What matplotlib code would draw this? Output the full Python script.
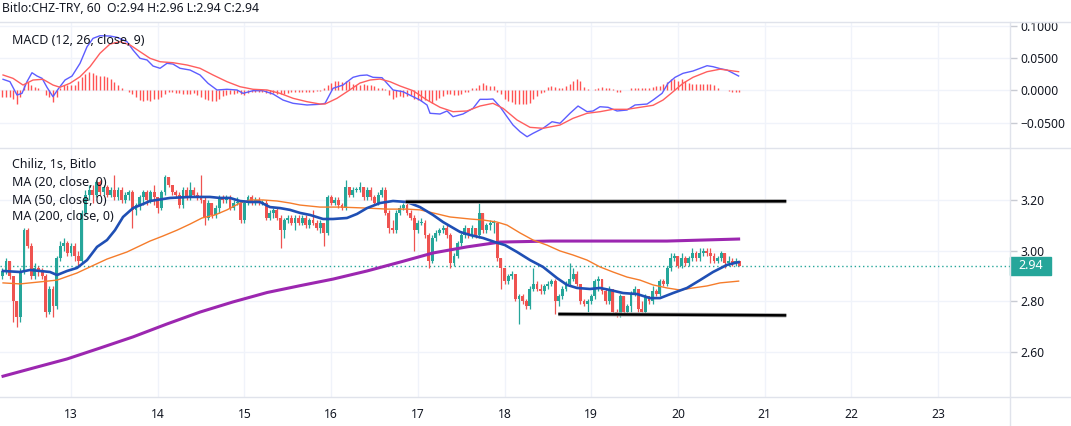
import numpy as np
import matplotlib
matplotlib.use("Agg")
import matplotlib.pyplot as plt
from matplotlib.patches import Rectangle
from matplotlib.lines import Line2D
from matplotlib import transforms

plt.rcParams['font.family'] = ['Noto Sans', 'DejaVu Sans']

# ---- data: Bitlo CHZ/TRY, 1h candles ----
first_candle_day = 12 + 5 / 24   # 12 Dec, 05:00
first_open = 2.90

closes = [
    2.92, 2.96, 2.90, 2.80, 2.74, 2.92, 3.08, 3.02, 2.90, 2.93,
    2.92, 2.90, 2.76, 2.85, 2.78, 2.97, 3.02, 3.03, 2.99, 3.02,
    2.98, 2.96, 3.15, 3.22, 3.24, 3.22, 3.27, 3.23, 3.25, 3.22,
    3.24, 3.21, 3.24, 3.20, 3.22, 3.23, 3.16, 3.18, 3.21, 3.23,
    3.20, 3.23, 3.21, 3.17, 3.23, 3.29, 3.26, 3.23, 3.22, 3.18,
    3.24, 3.21, 3.24, 3.22, 3.21, 3.20, 3.13, 3.19, 3.14, 3.17,
    3.21, 3.20, 3.21, 3.17, 3.19, 3.19, 3.12, 3.19, 3.21, 3.19,
    3.20, 3.19, 3.19, 3.13, 3.15, 3.16, 3.13, 3.08, 3.12, 3.13,
    3.11, 3.13, 3.11, 3.13, 3.10, 3.12, 3.11, 3.09, 3.11, 3.07,
    3.21, 3.19, 3.20, 3.18, 3.17, 3.25, 3.22, 3.24, 3.24, 3.25,
    3.21, 3.24, 3.21, 3.19, 3.22, 3.24, 3.15, 3.09, 3.08, 3.15,
    3.17, 3.18, 3.15, 3.13, 3.08, 3.11, 3.11, 3.06, 2.96, 3.05,
    3.07, 3.08, 3.09, 3.06, 2.95, 2.98, 3.03, 3.06, 3.09, 3.06,
    3.09, 3.06, 3.15, 3.08, 3.10, 3.11, 3.11, 2.97, 2.93, 2.88,
    2.90, 2.91, 2.81, 2.82, 2.80, 2.78, 2.85, 2.87, 2.85, 2.84,
    2.86, 2.87, 2.88, 2.80, 2.82, 2.85, 2.87, 2.89, 2.91, 2.87,
    2.80, 2.79, 2.80, 2.82, 2.88, 2.89, 2.84, 2.80, 2.85, 2.76,
    2.75, 2.82, 2.76, 2.78, 2.83, 2.85, 2.77, 2.76, 2.82, 2.80,
    2.84, 2.83, 2.88, 2.87, 2.93, 2.97, 2.98, 2.94, 2.97, 2.95,
    2.97, 2.99, 2.97, 2.99, 3.00, 2.99, 2.98, 2.96, 2.97, 2.99,
    2.95, 2.96, 2.95, 2.96, 2.94,
]
highs = [
    2.93, 2.97, 2.96, 2.90, 2.80, 2.93, 3.09, 3.09, 3.03, 2.95,
    2.94, 2.93, 2.91, 2.86, 2.86, 2.98, 3.04, 3.05, 3.04, 3.03,
    3.03, 3.00, 3.16, 3.24, 3.26, 3.26, 3.28, 3.28, 3.26, 3.26,
    3.25, 3.30, 3.25, 3.25, 3.23, 3.24, 3.24, 3.19, 3.22, 3.24,
    3.24, 3.24, 3.26, 3.21, 3.24, 3.30, 3.29, 3.26, 3.24, 3.23,
    3.25, 3.25, 3.27, 3.25, 3.23, 3.30, 3.21, 3.20, 3.19, 3.18,
    3.22, 3.22, 3.22, 3.22, 3.20, 3.21, 3.20, 3.20, 3.22, 3.22,
    3.21, 3.21, 3.20, 3.20, 3.16, 3.17, 3.17, 3.14, 3.13, 3.14,
    3.14, 3.14, 3.14, 3.14, 3.14, 3.13, 3.16, 3.12, 3.12, 3.11,
    3.22, 3.22, 3.21, 3.21, 3.19, 3.28, 3.25, 3.25, 3.25, 3.27,
    3.25, 3.25, 3.25, 3.22, 3.23, 3.25, 3.25, 3.16, 3.12, 3.16,
    3.18, 3.19, 3.19, 3.16, 3.14, 3.12, 3.13, 3.12, 3.07, 3.06,
    3.08, 3.09, 3.10, 3.10, 3.07, 2.99, 3.04, 3.07, 3.10, 3.09,
    3.10, 3.09, 3.19, 3.15, 3.11, 3.12, 3.12, 3.11, 2.97, 2.93,
    2.91, 2.92, 2.91, 2.83, 2.83, 2.81, 2.86, 2.93, 2.88, 2.87,
    2.87, 2.88, 2.89, 2.89, 2.83, 2.86, 2.88, 2.95, 2.93, 2.92,
    2.87, 2.81, 2.81, 2.83, 2.89, 2.90, 2.89, 2.85, 2.86, 2.85,
    2.77, 2.83, 2.82, 2.79, 2.84, 2.86, 2.85, 2.80, 2.83, 2.82,
    2.86, 2.85, 2.89, 2.89, 2.94, 2.99, 2.99, 2.98, 2.99, 2.98,
    2.98, 3.01, 3.00, 3.01, 3.01, 3.01, 3.01, 2.99, 2.98, 3.00,
    2.99, 2.98, 2.97, 2.97, 2.96,
]
lows = [
    2.89, 2.91, 2.89, 2.72, 2.70, 2.72, 2.91, 3.01, 2.89, 2.89,
    2.90, 2.89, 2.74, 2.75, 2.74, 2.77, 2.96, 3.00, 2.98, 2.98,
    2.96, 2.94, 2.95, 3.14, 3.20, 3.19, 3.21, 3.22, 3.22, 3.21,
    3.21, 3.20, 3.20, 3.19, 3.19, 3.20, 3.09, 3.14, 3.16, 3.18,
    3.18, 3.19, 3.18, 3.15, 3.16, 3.22, 3.25, 3.22, 3.21, 3.17,
    3.17, 3.20, 3.20, 3.21, 3.20, 3.19, 3.10, 3.12, 3.13, 3.13,
    3.15, 3.19, 3.19, 3.16, 3.16, 3.18, 3.11, 3.11, 3.18, 3.18,
    3.18, 3.18, 3.18, 3.12, 3.12, 3.13, 3.12, 3.01, 3.05, 3.11,
    3.10, 3.08, 3.10, 3.10, 3.09, 3.09, 3.10, 3.08, 3.07, 3.02,
    3.06, 3.18, 3.18, 3.17, 3.16, 3.16, 3.21, 3.21, 3.23, 3.23,
    3.20, 3.20, 3.20, 3.18, 3.18, 3.21, 3.14, 3.07, 3.07, 3.07,
    3.14, 3.16, 3.14, 3.12, 3.00, 3.07, 3.10, 3.05, 2.93, 2.95,
    3.04, 3.06, 3.07, 3.05, 2.93, 2.94, 2.97, 3.02, 3.05, 3.05,
    3.05, 3.05, 3.05, 3.07, 3.07, 3.08, 3.07, 2.96, 2.85, 2.87,
    2.87, 2.89, 2.80, 2.71, 2.79, 2.77, 2.77, 2.84, 2.84, 2.83,
    2.83, 2.85, 2.86, 2.75, 2.78, 2.81, 2.84, 2.86, 2.88, 2.86,
    2.79, 2.78, 2.76, 2.79, 2.81, 2.84, 2.83, 2.79, 2.79, 2.75,
    2.74, 2.74, 2.75, 2.75, 2.76, 2.82, 2.76, 2.76, 2.75, 2.79,
    2.79, 2.82, 2.82, 2.86, 2.86, 2.92, 2.96, 2.93, 2.93, 2.94,
    2.94, 2.96, 2.96, 2.96, 2.98, 2.98, 2.95, 2.95, 2.95, 2.96,
    2.93, 2.94, 2.94, 2.94, 2.94,
]
# MACD histogram, one bar per candle, in thousandths
macd_hist_milli = [
    -10, -10, -10, -13, -22, -10, 8, 13, 9, 5,
    3, 1, -8, -11, -18, -10, 3, 8, 9, 9,
    8, 15, 21, 26, 28, 27, 24, 23, 22, 21,
    17, 13, 8, 4, 1, -3, -5, -10, -15, -16,
    -15, -16, -14, -13, -11, -6, -3, -3, -4, -4,
    -5, -6, -5, -4, -8, -10, -13, -15, -16, -17,
    -13, -9, -8, -6, -5, -4, -6, -7, -4, -3,
    -2, -2, -3, -4, -5, -4, -5, -6, -5, -4,
    -3, -3, -3, -3, -2, -2, -2, -1, -1, 3,
    8, 11, 14, 14, 13, 14, 14, 10, 8, 9,
    10, 9, 9, 6, 3, 3, 2, -8, -13, -11,
    -9, -10, -9, -8, -13, -15, -16, -15, -17, -19,
    -15, -12, -9, -6, -6, -7, -7, -5, -3, -2,
    3, 4, 8, 11, 9, 7, 7, -2, -5, -13,
    -17, -18, -21, -22, -21, -21, -20, -14, -9, -4,
    -2, 5, 7, 5, 4, 4, 6, 10, 15, 17,
    15, 5, 2, 1, 2, 4, 5, 4, 4, 2,
    -3, -3, 1, 1, 3, 4, 4, 4, 4, 4,
    5, 6, 7, 10, 13, 17, 18, 15, 17, 15,
    11, 10, 10, 10, 10, 10, 10, 8, 4, 1,
    1, -1, -2, -3, -3,
]

ma20_days = [12.216, 12.412, 12.527, 12.642, 12.758, 12.839, 12.954, 13.069, 13.185, 13.300,
             13.415, 13.507, 13.600, 13.715, 13.830, 13.911, 14.142, 14.373, 14.603, 14.719,
             14.834, 14.949, 15.065, 15.180, 15.295, 15.411, 15.526, 15.641, 15.757, 15.907,
             16.022, 16.183, 16.299, 16.414, 16.564, 16.714, 16.875, 17.025, 17.175, 17.291,
             17.371, 17.487, 17.602, 17.752, 17.890, 18.006, 18.144, 18.294, 18.444, 18.606,
             18.721, 18.836, 18.986, 19.101, 19.217, 19.367, 19.528, 19.678, 19.794, 19.944,
             20.105, 20.255, 20.405, 20.566, 20.700]
ma20 = [2.920, 2.916, 2.924, 2.920, 2.916, 2.904, 2.920, 2.932, 2.963, 3.015,
        3.042, 3.081, 3.133, 3.168, 3.184, 3.196, 3.208, 3.212, 3.212, 3.208,
        3.208, 3.196, 3.192, 3.192, 3.172, 3.168, 3.161, 3.149, 3.141, 3.125,
        3.125, 3.129, 3.145, 3.168, 3.188, 3.196, 3.192, 3.172, 3.141, 3.113,
        3.097, 3.074, 3.062, 3.050, 3.034, 3.022, 2.995, 2.963, 2.936, 2.892,
        2.865, 2.853, 2.849, 2.853, 2.845, 2.833, 2.829, 2.813, 2.813, 2.833,
        2.853, 2.884, 2.916, 2.944, 2.955]

ma50_days = [12.216, 12.412, 12.642, 12.839, 13.069, 13.219, 13.415, 13.646, 13.911, 14.061,
             14.223, 14.373, 14.511, 14.661, 14.799, 14.949, 15.065, 15.215, 15.376, 15.526,
             15.641, 15.872, 16.103, 16.414, 16.645, 16.875, 17.025, 17.175, 17.371, 17.602,
             17.752, 17.913, 18.029, 18.179, 18.329, 18.490, 18.640, 18.790, 18.952, 19.101,
             19.251, 19.413, 19.563, 19.713, 19.874, 20.024, 20.174, 20.336, 20.486, 20.700]
ma50 = [2.873, 2.869, 2.877, 2.884, 2.912, 2.936, 2.967, 2.995, 3.038, 3.058,
        3.081, 3.105, 3.129, 3.141, 3.161, 3.188, 3.200, 3.200, 3.196, 3.188,
        3.180, 3.172, 3.172, 3.168, 3.164, 3.164, 3.161, 3.149, 3.133, 3.125,
        3.121, 3.113, 3.101, 3.070, 3.042, 3.022, 2.999, 2.983, 2.963, 2.936,
        2.916, 2.896, 2.884, 2.865, 2.853, 2.845, 2.853, 2.861, 2.873, 2.880]

ma200_days = [12.216, 12.562, 12.954, 13.334, 13.715, 14.107, 14.488, 14.869, 15.261, 15.641,
              16.022, 16.414, 16.795, 17.175, 17.567, 17.948, 18.525, 19.101, 19.874, 20.700]
ma200 = [2.505, 2.537, 2.573, 2.616, 2.660, 2.711, 2.758, 2.798, 2.835, 2.862,
         2.888, 2.920, 2.955, 2.991, 3.015, 3.034, 3.038, 3.038, 3.038, 3.046]

macd_days = [12.216, 12.296, 12.377, 12.435, 12.492, 12.550, 12.608, 12.666, 12.723, 12.792,
             12.850, 12.931, 13.012, 13.104, 13.185, 13.254, 13.334, 13.450, 13.531, 13.646,
             13.715, 13.796, 13.877, 13.946, 14.027, 14.107, 14.176, 14.257, 14.373, 14.488,
             14.580, 14.684, 14.799, 14.915, 14.984, 15.099, 15.215, 15.330, 15.445, 15.561,
             15.722, 15.872, 15.930, 16.022, 16.137, 16.253, 16.333, 16.414, 16.483, 16.587,
             16.714, 16.829, 16.945, 17.025, 17.106, 17.141, 17.256, 17.337, 17.406, 17.521,
             17.637, 17.717, 17.798, 17.867, 17.948, 18.029, 18.098, 18.179, 18.260, 18.329,
             18.444, 18.548, 18.640, 18.755, 18.848, 18.952, 19.021, 19.101, 19.194, 19.298,
             19.413, 19.505, 19.644, 19.713, 19.817, 19.886, 19.967, 20.059, 20.174, 20.336,
             20.405, 20.486, 20.566, 20.700]
macd = [0.0171, 0.0134, -0.0073, -0.0047, 0.0134, 0.0273, 0.0222, 0.0186, 0.0047, -0.0099,
        0.0016, 0.0160, 0.0222, 0.0419, 0.0677, 0.0807, 0.0848, 0.0843, 0.0823, 0.0755,
        0.0626, 0.0497, 0.0471, 0.0377, 0.0342, 0.0419, 0.0408, 0.0342, 0.0315, 0.0238,
        0.0109, 0.0005, 0.0016, 0.0005, -0.0047, -0.0006, -0.0006, -0.0057, -0.0151, -0.0202,
        -0.0228, -0.0217, -0.0202, 0.0031, 0.0082, 0.0202, 0.0230, 0.0238, 0.0202, 0.0196,
        0.0005, -0.0022, -0.0099, -0.0151, -0.0228, -0.0357, -0.0368, -0.0321, -0.0410, -0.0368,
        -0.0280, -0.0140, -0.0140, -0.0135, -0.0255, -0.0410, -0.0539, -0.0643, -0.0721, -0.0668,
        -0.0590, -0.0488, -0.0512, -0.0357, -0.0244, -0.0332, -0.0321, -0.0255, -0.0264, -0.0321,
        -0.0306, -0.0228, -0.0213, -0.0151, -0.0047, 0.0109, 0.0202, 0.0264, 0.0300, 0.0382,
        0.0367, 0.0337, 0.0315, 0.0222]

signal_days = [12.216, 12.331, 12.446, 12.562, 12.677, 12.792, 12.873, 12.988, 13.104, 13.219,
               13.334, 13.450, 13.565, 13.681, 13.796, 13.911, 14.027, 14.176, 14.338, 14.488,
               14.638, 14.799, 14.949, 15.099, 15.261, 15.411, 15.561, 15.722, 15.872, 15.930,
               16.068, 16.183, 16.333, 16.449, 16.564, 16.679, 16.795, 16.945, 17.106, 17.256,
               17.406, 17.567, 17.717, 17.867, 17.983, 18.144, 18.294, 18.444, 18.640, 18.790,
               18.952, 19.101, 19.251, 19.413, 19.563, 19.713, 19.828, 19.944, 20.059, 20.174,
               20.336, 20.486, 20.700]
signal = [0.0238, 0.0186, 0.0082, 0.0160, 0.0171, 0.0082, 0.0047, 0.0109, 0.0211, 0.0367,
          0.0575, 0.0719, 0.0755, 0.0704, 0.0600, 0.0497, 0.0444, 0.0429, 0.0393, 0.0342,
          0.0238, 0.0134, 0.0056, 0.0016, 0.0005, -0.0047, -0.0124, -0.0177, -0.0213, -0.0213,
          -0.0124, -0.0022, 0.0113, 0.0160, 0.0175, 0.0134, 0.0067, -0.0006, -0.0151, -0.0264,
          -0.0332, -0.0321, -0.0244, -0.0202, -0.0280, -0.0461, -0.0575, -0.0590, -0.0539, -0.0435,
          -0.0357, -0.0332, -0.0295, -0.0295, -0.0264, -0.0233, -0.0151, -0.0022, 0.0109, 0.0202,
          0.0289, 0.0328, 0.0289]

# horizontal range lines drawn on the chart
top_line_days = [16.86, 21.25]
top_line_prices = [3.193, 3.195]
bottom_line_days = [18.62, 21.25]
bottom_line_prices = [2.750, 2.745]
last_price = 2.94

day_ticks = list(range(13, 24))
price_ticks = [2.60, 2.80, 3.00, 3.20]
macd_ticks = [-0.05, 0.0, 0.05, 0.10]

UP = '#26a69a'
DOWN = '#ef5350'
GRID = '#f0f3fa'
BORDER = '#e0e3eb'
TEXT = '#131722'

W, H = 1071, 426
fig = plt.figure(figsize=(W / 100, H / 100), dpi=100)
fig.patch.set_facecolor('white')


def px_axes(x0, y0, x1, y1):
    return fig.add_axes([x0 / W, 1 - y1 / H, (x1 - x0) / W, (y1 - y0) / H])


ax_macd = px_axes(0, 22, 1010, 148)
ax = px_axes(0, 148, 1010, 397)

for a in (ax, ax_macd):
    for s in a.spines.values():
        s.set_visible(False)
    a.set_xlim(12.181, 23.830)
    a.set_xticks(day_ticks)
    a.grid(True, color=GRID, lw=1)
    a.set_axisbelow(True)
    a.yaxis.tick_right()
    a.tick_params(axis='y', length=5, width=1, color='#c8cbd3', pad=2.5,
                  labelsize=8.7, labelcolor=TEXT)

# ---- price pane ----
n = len(closes)
t = first_candle_day + np.arange(n) / 24
c = np.array(closes)
o = np.r_[first_open, c[:-1]]
hi = np.maximum(np.array(highs), np.maximum(o, c))
lo = np.minimum(np.array(lows), np.minimum(o, c))
col = np.where(c >= o, UP, DOWN)
ax.vlines(t, lo, hi, colors=col, lw=0.9, zorder=2)
ax.bar(t, np.maximum(np.abs(c - o), 0.003), bottom=np.minimum(o, c), width=0.033,
       color=col, lw=0, zorder=2)

ax.axhline(last_price, color=UP, lw=1, ls=(0, (1, 2)), zorder=1)
ax.plot(ma200_days, ma200, color='#9c27b0', lw=2.2, zorder=3)
ax.plot(ma50_days, ma50, color='#f57c2b', lw=1.0, zorder=3)
ax.plot(ma20_days, ma20, color='#1f4fb4', lw=1.9, zorder=4)

for xs, ys in ((top_line_days, top_line_prices), (bottom_line_days, bottom_line_prices)):
    ax.plot(xs, ys, color='#a8a8a8', lw=3.0, zorder=5, solid_capstyle='butt')
    ax.plot(xs, ys, color='black', lw=1.8, zorder=6, solid_capstyle='butt')

ax.set_ylim(2.423, 3.405)
ax.set_yticks(price_ticks, [f'{v:.2f}' for v in price_ticks])
ax.set_xticks(day_ticks, [str(d) for d in day_ticks])
ax.tick_params(axis='x', length=0, pad=8, labelsize=8.7, labelcolor=TEXT)

# last price tag on the scale
trans = transforms.blended_transform_factory(ax.transAxes, ax.transData)
ax.add_patch(Rectangle((1.0, last_price - 0.037), 41 / 1010, 0.074, transform=trans,
                       color=UP, clip_on=False, zorder=10))
ax.text(1.0 + 20.5 / 1010, last_price, f'{last_price:.2f}', transform=trans, ha='center',
        va='center', color='white', fontsize=9, weight='bold', zorder=11, clip_on=False)

ax.text(12 / 1010, (397 - 165) / 249, 'Chiliz, 1s, Bitlo', transform=ax.transAxes,
        fontsize=9, weight='bold', color=TEXT, va='center', zorder=12)
for yy, label in ((183, 'MA (20, close, 0)'), (200, 'MA (50, close, 0)'),
                  (217, 'MA (200, close, 0)')):
    ax.text(12 / 1010, (397 - yy) / 249, label, transform=ax.transAxes,
            fontsize=9, color=TEXT, va='center', zorder=12)

# ---- MACD pane ----
ax_macd.vlines(t, 0, np.array(macd_hist_milli) / 1000, colors='#ff5252', lw=1.0, zorder=2)
ax_macd.plot(macd_days, macd, color='#5d5dff', lw=1.0, zorder=3)
ax_macd.plot(signal_days, signal, color='#ff5e5e', lw=1.0, zorder=3)
ax_macd.set_ylim(-0.0896, 0.1061)
ax_macd.set_yticks(macd_ticks, [f'{v:.4f}'.replace('-', '\u2212') for v in macd_ticks])
ax_macd.tick_params(axis='x', length=0, labelbottom=False)
ax_macd.text(12 / 1010, (148 - 40) / 126, 'MACD (12, 26, close, 9)', transform=ax_macd.transAxes,
             fontsize=9, color=TEXT, va='center', zorder=12)

# ---- header + pane borders ----
t1 = fig.text(2 / W, 1 - 8.5 / H, 'Bitlo:CHZ-TRY, 60', fontsize=8.8, weight='bold',
              color=TEXT, va='center')
fig.canvas.draw()
bb = t1.get_window_extent()
fig.text((bb.x1 + 6) / W, 1 - 8.5 / H, 'O:2.94 H:2.96 L:2.94 C:2.94', fontsize=8.8,
         color=TEXT, va='center')

fig.add_artist(Rectangle((1011 / W, 1 - 22 / H), 60 / W, 22 / H, transform=fig.transFigure,
                         color='white', zorder=5))
for y in (22, 148, 397):
    fig.add_artist(Line2D([0, 1], [1 - y / H] * 2, color=BORDER, lw=1,
                          transform=fig.transFigure, zorder=6))
fig.add_artist(Line2D([1010 / W] * 2, [1 - 22 / H, 0], color=BORDER, lw=1,
                      transform=fig.transFigure, zorder=6))

fig.savefig('out.png', dpi=100)
